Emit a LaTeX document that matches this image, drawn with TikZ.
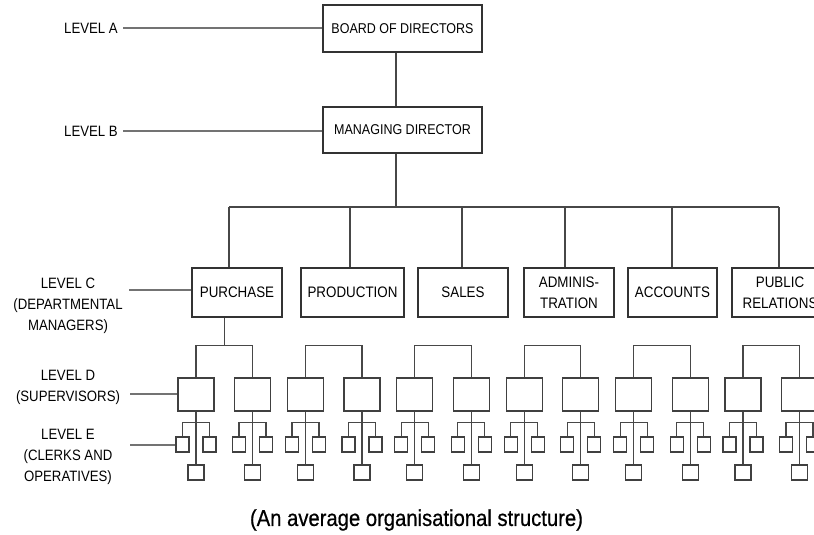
\documentclass[tikz,border=0pt]{standalone}
\usepackage{fontspec}
\setmainfont{Liberation Sans}
\newfontfamily\narrowfont[FakeStretch=0.88]{Liberation Sans}
\newfontfamily\capfont[FakeStretch=0.88,FakeBold=0.6]{Liberation Sans}
\usetikzlibrary{calc}
\begin{document}
\begin{tikzpicture}[x=1pt,y=-1pt,
  box/.style={draw=black!80, line width=1.2pt, inner sep=0pt, align=center, text=black, font=\narrowfont\fontsize{15.2}{21}\selectfont},
  topbox/.style={box, minimum width=159pt, minimum height=47pt, font=\narrowfont\fontsize{14.2}{15}\selectfont},
  dept/.style={box, minimum height=49pt},
  supbox/.style={draw=black!75, line width=1.2pt, minimum width=36pt, minimum height=33pt, inner sep=0pt},
  clerk/.style={draw=black!75, line width=1.2pt, minimum width=13pt, minimum height=15pt, inner sep=0pt},
  opbox/.style={draw=black!75, line width=1.2pt, minimum width=16pt, minimum height=15pt, inner sep=0pt},
  conn/.style={draw=black!72, line width=1.2pt},
  lead/.style={draw=black!55, line width=1.2pt},
  lvl/.style={align=center, text=black, font=\narrowfont\fontsize{15}{21}\selectfont, inner sep=0pt}
]
\useasboundingbox (0,0) rectangle (814,535);
\clip (0,0) rectangle (814,535);

% top levels
\node[topbox] (board) at (402.5,28.5) {BOARD OF DIRECTORS};
\node[topbox, minimum height=46pt] (md) at (402.5,130) {MANAGING DIRECTOR};
\coordinate (j) at (396,207);
\draw[conn] (j |- board.south) -- (j |- md.north);
\draw[conn] (j |- md.south) -- (j);

% departments
\node[dept, minimum width=90pt] (purchase) at (237,292.5) {PURCHASE};
\node[dept, minimum width=103pt] (production) at (352.5,292.5) {PRODUCTION};
\node[dept, minimum width=90pt] (sales) at (463,292.5) {SALES};
\node[dept, minimum width=90pt] (admin) at (569,292.5) {ADMINIS-\\TRATION};
\node[dept, minimum width=89pt] (accounts) at (672.5,292.5) {ACCOUNTS};
\node[dept, minimum width=96pt] (public) at (780,292.5) {PUBLIC\\RELATIONS};

\coordinate (d1) at (229,207);
\coordinate (d2) at (350,207);
\coordinate (d3) at (462,207);
\coordinate (d4) at (565,207);
\coordinate (d5) at (672,207);
\coordinate (d6) at (779,207);
\draw[conn] (d1) -- (d6);
\draw[conn] (d1) -- (d1 |- purchase.north);
\draw[conn] (d2) -- (d2 |- production.north);
\draw[conn] (d3) -- (d3 |- sales.north);
\draw[conn] (d4) -- (d4 |- admin.north);
\draw[conn] (d5) -- (d5 |- accounts.north);
\draw[conn] (d6) -- (d6 |- public.north);

% supervisors, clerks and operatives
\foreach \k in {0,...,5} {
  \pgfmathsetmacro\L{196+109.4*\k}
  \pgfmathsetmacro\R{\L+56.5}
  \foreach \s/\xx in {a/\L,b/\R} {
    \node[supbox] (s\k\s) at (\xx,394.5) {};
    \node[clerk] (c\k\s L) at (\xx-13.5,444.5) {};
    \node[clerk] (c\k\s R) at (\xx+13.5,444.5) {};
    \node[opbox] (o\k\s) at (\xx,472.5) {};
    \draw[conn] (s\k\s.south) -- (o\k\s.north);
    \draw[conn] (c\k\s L.north) -- ++(0,-14) -| (c\k\s R.north);
  }
  \draw[conn] (s\k a.north) -- ++(0,-32) -| (s\k b.north);
  \coordinate (pb\k) at (\L+28.25,346);
}
\draw[conn] (pb0 |- purchase.south) -- (pb0);

% level labels
\node[lvl] (lA) at (91,28) {LEVEL A};
\node[lvl] (lB) at (91,131) {LEVEL B};
\node[lvl] (lC) at (68,306) {LEVEL C\\(DEPARTMENTAL\\MANAGERS)};
\node[lvl] (lD) at (68,387) {LEVEL D\\(SUPERVISORS)};
\node[lvl] (lE) at (68,457) {LEVEL E\\(CLERKS AND\\OPERATIVES)};

\coordinate (aS) at (123,28);
\coordinate (bS) at (123,131);
\coordinate (cS) at (129,290);
\coordinate (dS) at (130,394);
\coordinate (eS) at (130,445);
\draw[lead] (aS) -- (aS -| board.west);
\draw[lead] (bS) -- (bS -| md.west);
\draw[lead] (cS) -- (cS -| purchase.west);
\draw[lead] (dS) -- (dS -| s0a.west);
\draw[lead] (eS) -- (eS -| c0aL.west);

% caption
\node[font=\capfont\fontsize{23}{26}\selectfont, text=black, inner sep=0pt] (cap) at (416.5,520) {(An average organisational structure)};
\end{tikzpicture}
\end{document}
